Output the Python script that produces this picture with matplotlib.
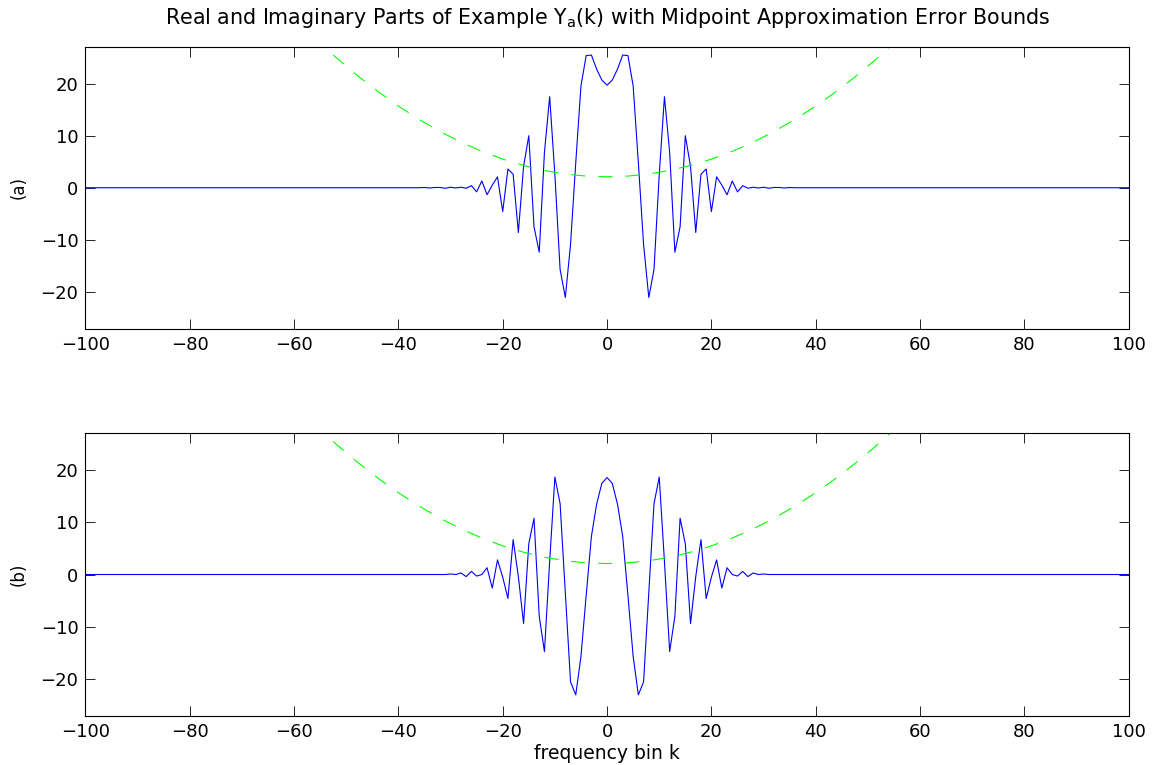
import numpy as np
import matplotlib
matplotlib.use('Agg')
import matplotlib.pyplot as plt

plt.rcParams['font.family'] = ['DejaVu Sans']
plt.rcParams['lines.scale_dashes'] = False

# frequency bins shown on the x axis
k = np.arange(-100, 101)

# bins where the spectrum is non-zero (outside this range it sits on 0)
k_mid = np.arange(-36, 37)

# (a) real part for k = -36..36
real_mid = [
    0.0, 0.05, -0.05, 0.05, 0.05, -0.1, 0.1, -0.05, 0.1, -0.1,
    0.4, -0.8, 1.3, -1.35, 0.5, 2.1, -4.6, 3.6, 2.6, -8.6,
    4.1, 10.0, -7.5, -12.4, 6.8, 17.5, 2.5, -15.7, -21.1, -10.9,
    4.8, 19.6, 25.4, 25.5, 22.8, 20.7,
    19.7,
    20.7, 22.8, 25.5, 25.4, 19.6, 4.8, -10.9, -21.1, -15.7, 2.5,
    17.5, 6.8, -12.4, -7.5, 10.0, 4.1, -8.6, 2.6, 3.6, -4.6,
    2.1, 0.5, -1.35, 1.3, -0.8, 0.4, -0.1, 0.1, -0.05, 0.1,
    -0.1, 0.05, 0.05, -0.05, 0.05, 0.0,
]

# (b) imaginary part for k = -36..36
imag_mid = [
    0.0, 0.0, 0.0, 0.0, 0.0, 0.0, 0.1, 0.0, 0.3, -0.4,
    0.6, -0.3, 0.0, 1.3, -2.6, 2.8, -0.5, -4.6, 6.7, -0.4,
    -9.4, 5.9, 10.8, -8.0, -14.8, 2.5, 18.7, 13.6, -3.5, -20.6,
    -23.1, -15.7, -4.0, 7.3, 13.5, 17.5,
    18.6,
    17.5, 13.5, 7.3, -4.0, -15.7, -23.1, -20.6, -3.5, 13.6, 18.7,
    2.5, -14.8, -8.0, 10.8, 5.9, -9.4, -0.4, 6.7, -4.6, -0.5,
    2.8, -2.6, 1.3, 0.0, -0.3, 0.6, -0.4, 0.3, 0.0, 0.1,
    0.0, 0.0, 0.0, 0.0, 0.0, 0.0,
]

# midpoint approximation error bound (same for both panels)
bound_k = np.arange(-60, 61, 4)
bound_val = [
    32.70, 28.76, 25.08, 21.68, 18.56, 15.70, 13.12, 10.80, 8.76, 7.00,
    5.50, 4.28, 3.32, 2.64, 2.24, 2.10, 2.24, 2.64, 3.32, 4.28,
    5.50, 7.00, 8.76, 10.80, 13.12, 15.70, 18.56, 21.68, 25.08, 28.76,
    32.70,
]

x_ticks = np.arange(-100, 101, 20)
y_ticks = [-20, -10, 0, 10, 20]


def full_series(mid):
    y = np.zeros(len(k))
    y[np.searchsorted(k, k_mid)] = mid
    return y


fig = plt.figure(figsize=(11.53, 7.65), dpi=100)
ax1 = fig.add_axes([0.074, 0.5703, 0.905, 0.3686])
ax2 = fig.add_axes([0.074, 0.0644, 0.905, 0.3692])

for ax, mid, lab in [(ax1, real_mid, '(a)'), (ax2, imag_mid, '(b)')]:
    ax.plot(k, full_series(mid), color='#0000ff', lw=0.8)
    ax.plot(bound_k, bound_val, color='#00ff00', lw=0.8, dashes=(10, 9.5))
    ax.set_xlim(-100, 100)
    ax.set_ylim(-27.1, 27.1)
    ax.set_xticks(x_ticks)
    ax.set_yticks(y_ticks)
    ax.tick_params(direction='in', length=7.5, width=0.6, top=True, right=True,
                   labelsize=13, pad=5)
    ax.set_ylabel(lab, fontsize=12)
    ax.yaxis.set_label_coords(-0.055, 0.5)
    for s in ax.spines.values():
        s.set_linewidth(0.8)

ax1.set_title(r'Real and Imaginary Parts of Example Y$_\mathregular{a}$(k) with Midpoint Approximation Error Bounds',
              fontsize=14.9, pad=16.5)
ax2.set_xlabel('frequency bin k', fontsize=13.5, va='bottom')
ax2.xaxis.set_label_coords(0.5, -0.168)

fig.savefig('out.png', dpi=100)
